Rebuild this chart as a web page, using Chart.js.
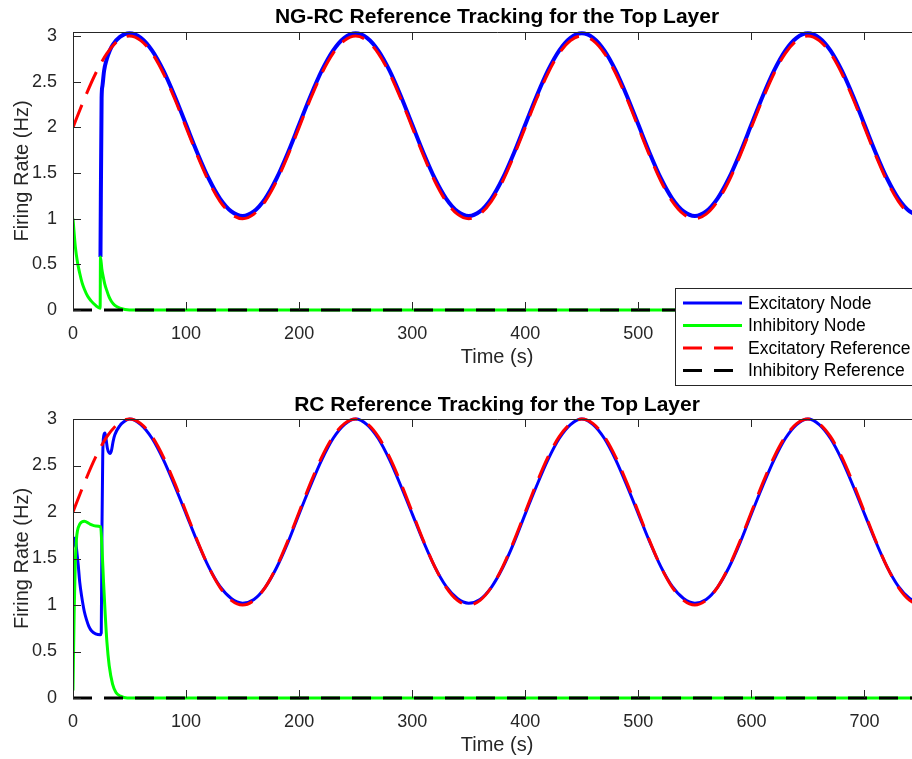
<!DOCTYPE html>
<html>
<head>
<meta charset="utf-8">
<script src="https://cdn.jsdelivr.net/npm/chart.js@4.4.1/dist/chart.umd.min.js"></script>
<style>
  html, body { margin:0; padding:0; background:#fff; width:912px; height:759px; overflow:hidden; }
  #wrap { position:relative; width:912px; height:759px; overflow:hidden; }
  canvas { position:absolute; left:0; }
  #top { top:0; }
  #bot { top:392px; }
</style>
</head>
<body>
<div id="wrap">
  <canvas id="top" width="921" height="392"></canvas>
  <canvas id="bot" width="921" height="367"></canvas>
</div>
<script>
// time axis labels
const xTicks = [0, 100, 200, 300, 400, 500, 600, 700];
const yTicks = [0, 0.5, 1, 1.5, 2, 2.5, 3];

// shared references (every 10 s)
const refT = [0,10,20,30,40,50,60,70,80,90,100,110,120,130,140,150,160,170,180,190,
  200,210,220,230,240,250,260,270,280,290,300,310,320,330,340,350,360,370,380,390,
  400,410,420,430,440,450,460,470,480,490,500,510,520,530,540,550,560,570,580,590,
  600,610,620,630,640,650,660,670,680,690,700,710,720,730,740,750];
const excRef = [2,2.31,2.59,2.81,2.95,3,2.95,2.81,2.59,2.31,2,1.69,1.41,1.19,1.05,1,1.05,1.19,1.41,1.69,
  2,2.31,2.59,2.81,2.95,3,2.95,2.81,2.59,2.31,2,1.69,1.41,1.19,1.05,1,1.05,1.19,1.41,1.69,
  2,2.31,2.59,2.81,2.95,3,2.95,2.81,2.59,2.31,2,1.69,1.41,1.19,1.05,1,1.05,1.19,1.41,1.69,
  2,2.31,2.59,2.81,2.95,3,2.95,2.81,2.59,2.31,2,1.69,1.41,1.19,1.05,1];
const inhRefT = [0, 750];
const inhRef = [0, 0];

// NG-RC (top)
const ngExcT = [24.3,25.3,26,27.5,29.7,32.5,35.6,41.5,50,
  60,70,80,90,100,110,120,130,140,150,160,170,180,190,200,210,220,230,240,250,
  260,270,280,290,300,310,320,330,340,350,360,370,380,390,400,410,420,430,440,450,
  460,470,480,490,500,510,520,530,540,550,560,570,580,590,600,610,620,630,640,650,
  660,670,680,690,700,710,720,730,740,750];
const ngExc = [0.58,2.32,2.45,2.62,2.74,2.84,2.91,2.99,3.03,
  2.98,2.84,2.62,2.34,2.03,1.72,1.44,1.22,1.08,1.03,1.08,1.22,1.44,1.72,2.03,2.34,2.62,2.84,2.98,3.03,
  2.98,2.84,2.62,2.34,2.03,1.72,1.44,1.22,1.08,1.03,1.08,1.22,1.44,1.72,2.03,2.34,2.62,2.84,2.98,3.03,
  2.98,2.84,2.62,2.34,2.03,1.72,1.44,1.22,1.08,1.03,1.08,1.22,1.44,1.72,2.03,2.34,2.62,2.84,2.98,3.03,
  2.98,2.84,2.62,2.34,2.03,1.72,1.44,1.22,1.08,1.03];
const ngInhT = [0,2,4,6,8,10,13,16,20,24,24.3,25.5,26.8,28,29.7,32,34.2,37,41.5,50,750];
const ngInh = [1,0.7,0.52,0.4,0.3,0.23,0.15,0.1,0.05,0.02,0.58,0.45,0.36,0.29,0.22,0.14,0.09,0.05,0.02,0,0];

// RC (bottom)
const rcExcT = [0,1,2,3,4.7,6,7.7,10,12,14,16.5,20,24,25,25.6,26.3,27.2,28.3,29.3,30.5,32.7,34,35.5,37,41.5,45,50,
  60,70,80,90,100,110,120,130,140,150,160,170,180,190,200,210,220,230,240,250,
  260,270,280,290,300,310,320,330,340,350,360,370,380,390,400,410,420,430,440,450,
  460,470,480,490,500,510,520,530,540,550,560,570,580,590,600,610,620,630,640,650,
  660,670,680,690,700,710,720,730,740,750];
const rcExc = [1.62,1.7,1.72,1.62,1.42,1.24,1.09,0.93,0.84,0.77,0.72,0.69,0.68,0.7,1.8,2.6,2.82,2.85,2.78,2.68,2.63,2.66,2.76,2.83,2.93,2.97,3.0,
  2.94,2.79,2.56,2.28,1.98,1.68,1.41,1.2,1.07,1.02,1.06,1.19,1.4,1.67,1.98,2.28,2.56,2.79,2.94,3.0,
  2.94,2.79,2.56,2.28,1.98,1.68,1.41,1.2,1.07,1.02,1.06,1.19,1.4,1.67,1.98,2.28,2.56,2.79,2.94,3.0,
  2.94,2.79,2.56,2.28,1.98,1.68,1.41,1.2,1.07,1.02,1.06,1.19,1.4,1.67,1.98,2.28,2.56,2.79,2.94,3.0,
  2.94,2.79,2.56,2.28,1.98,1.68,1.41,1.2,1.07,1.02];
const rcInhT = [0,1,2,3,4,6,10,15,20,24.5,25.5,27,28.5,30,32,35,38,42,48,750];
const rcInh = [0.08,0.9,1.45,1.7,1.8,1.87,1.9,1.87,1.85,1.84,1.65,1.25,0.9,0.6,0.35,0.15,0.06,0.02,0,0];

const legendLabels = ["Excitatory Node", "Inhibitory Node", "Excitatory Reference", "Inhibitory Reference"];

const FONT = '"Liberation Sans", Arial, Helvetica, sans-serif';
const AXIS = "#262626";
Chart.defaults.font.family = FONT;

function pts(t, v){ return t.map((x,i)=>({x:x, y:v[i]})); }

// MATLAB-ish box with inward ticks, drawn over the data
const boxPlugin = {
  id: "box",
  afterDatasetsDraw(chart){
    const {ctx, chartArea:a, scales:{x, y}} = chart;
    ctx.save();
    ctx.strokeStyle = AXIS;
    ctx.lineWidth = 1;
    ctx.beginPath();
    ctx.moveTo(a.left+0.5, a.bottom); ctx.lineTo(a.left+0.5, a.top+0.5); ctx.lineTo(a.right, a.top+0.5);
    xTicks.forEach(v=>{
      const px = Math.round(x.getPixelForValue(v))+0.5;
      ctx.moveTo(px, a.bottom); ctx.lineTo(px, a.bottom-8);
      ctx.moveTo(px, a.top); ctx.lineTo(px, a.top+8);
    });
    yTicks.forEach(v=>{
      const py = Math.round(y.getPixelForValue(v))+0.5;
      ctx.moveTo(a.left, py); ctx.lineTo(a.left+8, py);
      ctx.moveTo(a.right, py); ctx.lineTo(a.right-8, py);
    });
    ctx.stroke();
    ctx.restore();
  },
  afterDraw(chart, args, opts){
    const {ctx, chartArea:a} = chart;
    ctx.save();
    ctx.fillStyle = "#000";
    ctx.font = "bold 21px " + FONT;
    ctx.textAlign = "center";
    ctx.textBaseline = "alphabetic";
    ctx.fillText(opts.title, (a.left+a.right)/2, opts.titleY);
    if(opts.legend){
      const L = {x:675.5, y:288.5, w:260, h:97};
      ctx.fillStyle = "#fff";
      ctx.fillRect(L.x, L.y, L.w, L.h);
      ctx.strokeStyle = AXIS;
      ctx.lineWidth = 1;
      ctx.strokeRect(L.x, L.y, L.w, L.h);
      const styles = [
        {c:"#0000ff", d:[]}, {c:"#00ff00", d:[]},
        {c:"#ff0000", d:[19,12]}, {c:"#000000", d:[19,12]}
      ];
      ctx.font = "17.5px " + FONT;
      ctx.textAlign = "left";
      ctx.textBaseline = "middle";
      legendLabels.forEach((lab,i)=>{
        const ry = 303 + i*22.5;
        ctx.strokeStyle = styles[i].c;
        ctx.lineWidth = 3;
        ctx.setLineDash(styles[i].d);
        ctx.beginPath(); ctx.moveTo(683, ry); ctx.lineTo(742, ry); ctx.stroke();
        ctx.setLineDash([]);
        ctx.fillStyle = "#000";
        ctx.fillText(lab, 748, ry+1);
      });
    }
    ctx.restore();
  }
};

function makeChart(id, o){
  const clip = {left:0, right:0, top:3, bottom:4};
  return new Chart(document.getElementById(id), {
    type: "line",
    data: {
      datasets: [
        {data: pts(o.excT, o.exc), borderColor:"#0000ff", borderWidth:o.excW, order:4, clip:clip},
        {data: pts(o.inhT, o.inh), borderColor:"#00ff00", borderWidth:3, order:3, clip:clip},
        {data: pts(refT, excRef), borderColor:"#ff0000", borderWidth:3, borderDash:[24,12], order:2, clip:clip},
        {data: pts(inhRefT, inhRef), borderColor:"#000000", borderWidth:3, borderDash:[19,12], order:1, clip:clip}
      ]
    },
    options: {
      responsive:false, animation:false, devicePixelRatio:1,
      elements:{ point:{radius:0}, line:{cubicInterpolationMode:"monotone", fill:false} },
      layout:{ padding:{top:o.top, left:0, right:0, bottom:0} },
      plugins:{ legend:{display:false}, tooltip:{enabled:false},
        box:{ title:o.title, titleY:o.titleY, legend:o.legend } },
      scales:{
        x:{ type:"linear", min:0, max:750,
          grid:{display:false}, border:{display:false},
          afterBuildTicks(s){ s.ticks = xTicks.map(v=>({value:v})); },
          afterFit(s){ s.height = o.xh; },
          ticks:{ color:AXIS, font:{size:18}, padding:o.xpad, maxRotation:0, autoSkip:false,
            callback:v=>String(v) },
          title:{ display:true, text:"Time (s)", color:AXIS, font:{size:20}, padding:{top:0, bottom:o.xtpad} }
        },
        y:{ type:"linear", min:0, max:o.ymax,
          grid:{display:false}, border:{display:false},
          afterBuildTicks(s){ s.ticks = yTicks.map(v=>({value:v})); },
          afterFit(s){ s.width = 73; },
          ticks:{ color:AXIS, font:{size:18}, padding:8, callback:v=>String(v) },
          title:{ display:true, text:"Firing Rate (Hz)", color:AXIS, font:{size:20}, padding:{top:10, bottom:0} }
        }
      }
    },
    plugins:[boxPlugin]
  });
}

makeChart("top", {
  excT:ngExcT, exc:ngExc, inhT:ngInhT, inh:ngInh, excW:4,
  top:32, xh:82, xpad:5, xtpad:23, ymax:3.044,
  title:"NG-RC Reference Tracking for the Top Layer", titleY:22.5, legend:true
});
makeChart("bot", {
  excT:rcExcT, exc:rcExc, inhT:rcInhT, inh:rcInh, excW:3,
  top:27, xh:61, xpad:5, xtpad:2, ymax:3,
  title:"RC Reference Tracking for the Top Layer", titleY:18.5, legend:false
});
</script>
</body>
</html>
